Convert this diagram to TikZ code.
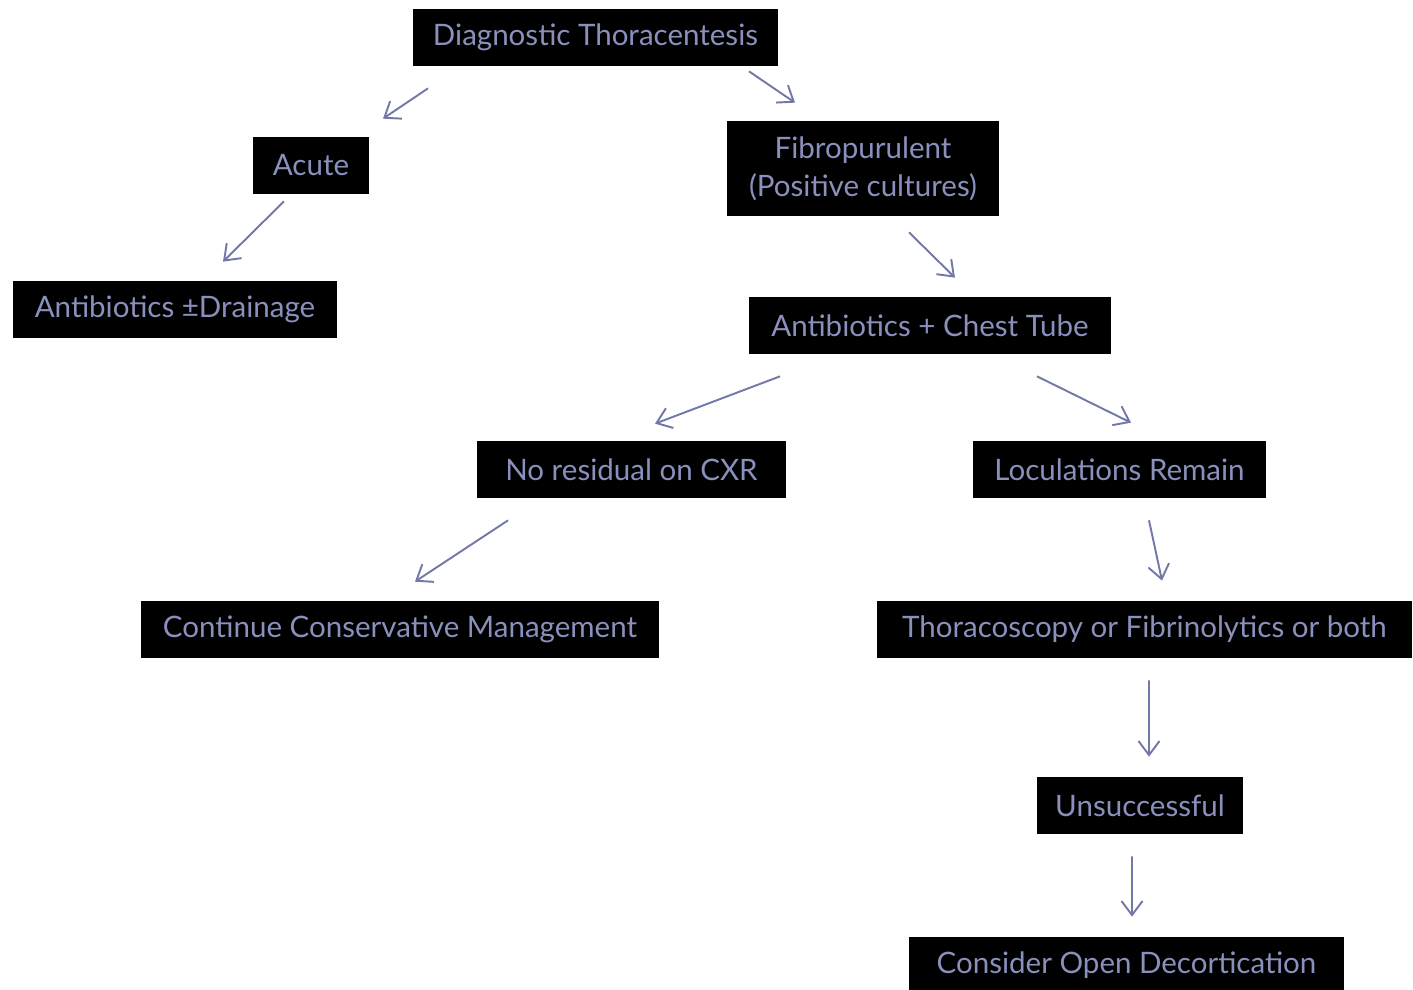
\documentclass[tikz,border=0pt]{standalone}
\usepackage{fontspec}
\setmainfont{Lato}
\usetikzlibrary{arrows.meta, calc}
\definecolor{slate}{HTML}{7279A8}
\definecolor{slatetext}{HTML}{8A90BC}
\tikzstyle{darkbox} = [
	rectangle,
	minimum height=1.14cm,
	inner sep=0pt,
	text centered,
	fill=black,
	text=slatetext,
	font=\fontsize{16.8}{21.6}\selectfont
]
\tikzstyle{arrow} = [slate, line width=1.1pt, -{Straight Barb[length=8pt,width=12pt]}]
\begin{document}
\begin{tikzpicture}[x=0.02cm, y=-0.02cm]
		\clip (0,0) rectangle (1413,990);

		\node (diag) [darkbox, minimum width=7.3cm] at (595.5,37.5) {Diagnostic Thoracentesis};
		\node (acute) [darkbox, minimum width=2.32cm] at (311,165.5) {Acute};
		\node (fibro) [darkbox, minimum width=5.44cm, minimum height=1.9cm, align=center] at (863,168.5) {Fibropurulent\\(Positive cultures)};
		\node (drain) [darkbox, minimum width=6.48cm] at (175,309.5) {Antibiotics ±Drainage};
		\node (chest) [darkbox, minimum width=7.24cm] at (930,325.5) {Antibiotics + Chest Tube};
		\node (nores) [darkbox, minimum width=6.18cm] at (631.5,469.5) {No residual on CXR};
		\node (locul) [darkbox, minimum width=5.86cm] at (1119.5,469.5) {Loculations Remain};
		\node (conserv) [darkbox, minimum width=10.36cm] at (400,629.5) {Continue Conservative Management};
		\node (thorac) [darkbox, minimum width=10.7cm] at (1144.5,629.5) {Thoracoscopy or Fibrinolytics or both};
		\node (unsucc) [darkbox, minimum width=4.12cm] at (1140,805.5) {Unsuccessful};
		\node (decort) [darkbox, minimum width=8.7cm] at (1126.5,965.5) {Consider Open Decortication};

		\draw [arrow] ($(diag.south)+(-167.5,22)$) -- ($(acute.north)+(72,-18)$);
		\draw [arrow] ($(diag.south)+(153.5,5)$) -- ($(fibro.north)+(-68,-18)$);
		\draw [arrow] ($(acute.south)+(-27,7)$) -- ($(drain.north)+(48,-19)$);
		\draw [arrow] ($(fibro.south)+(46,16)$) -- ($(chest.north)+(25,-19)$);

		\draw [arrow] ($(chest.south)+(-150,22)$) -- ($(nores.north)+(23.5,-17)$);
		\draw [arrow] ($(chest.south)+(107,22)$) -- ($(locul.north)+(11.5,-18)$);
		\draw [arrow] ($(nores.south)+(-123.5,22)$) -- ($(conserv.north)+(15,-19)$);
		\draw [arrow] ($(locul.south)+(29.5,22)$) -- ($(thorac.north)+(17.5,-20)$);
		\draw [arrow] ($(thorac.south)+(4.5,22)$) -- ($(unsucc.north)+(9,-20)$);
		\draw [arrow] ($(unsucc.south)+(-8,22)$) -- ($(decort.north)+(5.5,-20)$);
	\end{tikzpicture}
\end{document}
